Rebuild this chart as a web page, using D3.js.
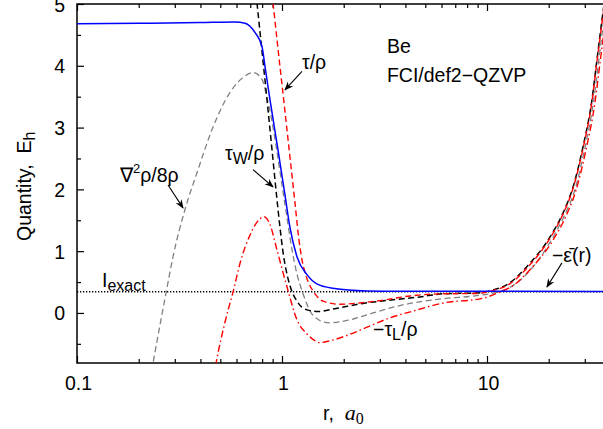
<!DOCTYPE html>
<html>
<head>
<meta charset="utf-8">
<script src="https://cdn.jsdelivr.net/npm/d3@7"></script>
<style>
  body { margin: 0; background: #fff; }
  text { font-family: "Liberation Sans", Arial, sans-serif; white-space: pre; }
</style>
</head>
<body>
<svg id="chart" width="603" height="429"></svg>
<script>
// [r (bohr), value (hartree)]
const negEpsBar = [
  [0.1, 4.68], [0.227, 4.69], [0.398, 4.70], [0.59, 4.71], [0.66, 4.69], [0.698, 4.64],
  [0.738, 4.54], [0.799, 4.31], [0.826, 3.99], [0.874, 3.45], [0.956, 2.64], [1.034, 1.91],
  [1.094, 1.38], [1.183, 0.91], [1.324, 0.62], [1.48, 0.47], [1.77, 0.40], [2.6, 0.356],
  [3.76, 0.35], [10, 0.35], [40, 0.345]
];
const tauW = [
  [0.755, 5.02], [0.799, 4.23], [0.845, 3.45], [0.894, 2.64], [0.940, 1.91], [0.978, 1.38],
  [1.011, 0.99], [1.046, 0.70], [1.094, 0.44], [1.183, 0.19], [1.324, 0.05], [1.498, 0.024],
  [1.835, 0.073], [2.48, 0.154], [3.64, 0.219], [4.71, 0.26], [6.1, 0.31], [8.94, 0.324],
  [10.3, 0.357], [12.9, 0.486], [15.6, 0.745], [20.3, 1.23], [23.5, 1.62], [26.3, 2.04],
  [29.4, 2.69], [32.5, 3.45], [34.3, 4.07], [36.3, 4.72], [38.9, 5.48]
];
const tau = [
  [0.904, 5.02], [0.961, 4.21], [1.023, 3.40], [1.088, 2.59], [1.157, 1.78], [1.21, 1.18],
  [1.252, 0.86], [1.309, 0.60], [1.37, 0.44], [1.449, 0.31], [1.585, 0.19], [1.92, 0.14],
  [2.27, 0.155], [3.0, 0.20], [4.21, 0.275], [6.1, 0.31], [8.94, 0.315], [10.3, 0.35],
  [12.9, 0.47], [15.6, 0.72], [20.3, 1.21], [23.5, 1.60], [26.3, 2.02], [29.4, 2.66],
  [32.5, 3.42], [34.3, 4.04], [36.3, 4.67], [38.9, 5.43]
];
const lapRho = [
  [0.227, -1.09], [0.235, -0.81], [0.272, 0.33], [0.294, 0.91], [0.336, 1.67], [0.385, 2.27],
  [0.461, 3.01], [0.558, 3.57], [0.645, 3.81], [0.722, 3.89], [0.799, 3.78], [0.845, 3.48],
  [0.894, 3.10], [0.945, 2.61], [1.0, 2.07], [1.058, 1.54], [1.119, 1.02], [1.183, 0.63],
  [1.252, 0.36], [1.339, 0.10], [1.416, -0.04], [1.48, -0.09], [1.585, -0.146], [1.715, -0.16],
  [2.145, -0.11], [2.78, 0.0], [3.76, 0.12], [6.1, 0.23], [8.94, 0.28], [10.7, 0.32],
  [12.9, 0.41], [15.6, 0.63], [20.6, 1.18], [23.8, 1.57], [26.8, 1.99], [29.9, 2.64],
  [33.0, 3.40], [34.9, 4.02], [36.9, 4.67], [39.4, 5.40]
];
const negTauL = [
  [0.461, -1.09], [0.477, -0.81], [0.527, -0.15], [0.577, 0.34], [0.631, 0.86], [0.698, 1.26],
  [0.755, 1.47], [0.817, 1.556], [0.874, 1.43], [0.945, 1.02], [1.058, 0.42], [1.183, -0.11],
  [1.324, -0.34], [1.433, -0.44], [1.53, -0.48], [1.715, -0.45], [2.07, -0.365], [2.6, -0.23],
  [3.36, -0.08], [4.35, 0.03], [6.1, 0.16], [9.6, 0.24], [11.2, 0.32], [14.0, 0.49],
  [16.2, 0.70], [21.0, 1.18], [24.3, 1.57], [27.2, 1.99], [30.4, 2.64], [33.6, 3.40],
  [35.5, 4.02], [37.6, 4.67], [39.8, 5.3]
];
const iExact = 0.343;

const xMajor = [0.1, 1, 10];
const xMinor = [0.2, 0.3, 0.4, 0.5, 0.6, 0.7, 0.8, 0.9, 2, 3, 4, 5, 6, 7, 8, 9, 20, 30];
const yMajor = [0, 1, 2, 3, 4, 5];
const yMinor = [-0.5, 0.5, 1.5, 2.5, 3.5, 4.5];

const svg = d3.select("#chart");
const mLeft = 77, mTop = 4, mBottom = 363;
const x = d3.scaleLog().domain([0.1, 40]).range([mLeft, mLeft + 205 * Math.log10(400)]);
const y = d3.scaleLinear().domain([-0.81, 5]).range([mBottom, mTop]);
const mRight = x.range()[1];

const defs = svg.append("defs");
defs.append("clipPath").attr("id", "plot")
  .append("rect").attr("x", mLeft).attr("y", mTop)
  .attr("width", mRight - mLeft).attr("height", mBottom - mTop);

const marker = defs.append("marker")
  .attr("id", "arrow").attr("viewBox", "0 0 10 10")
  .attr("refX", 9).attr("refY", 5)
  .attr("markerWidth", 9).attr("markerHeight", 9)
  .attr("markerUnits", "userSpaceOnUse")
  .attr("orient", "auto");
marker.append("path").attr("d", "M0,1 L10,5 L0,9 L3,5 z").attr("fill", "#000");

// ticks (inward, mirrored on top)
function tickAxis(axis, tv, size, g) {
  g.call(axis.tickValues(tv).tickSizeInner(size).tickSizeOuter(0).tickFormat(""));
  g.select(".domain").remove();
  g.selectAll("line").attr("stroke-width", 1.2);
}
tickAxis(d3.axisBottom(x), xMinor, -4, svg.append("g").attr("transform", `translate(0,${mBottom})`));
tickAxis(d3.axisBottom(x), xMajor, -7, svg.append("g").attr("transform", `translate(0,${mBottom})`));
tickAxis(d3.axisTop(x), xMinor, -4, svg.append("g").attr("transform", `translate(0,${mTop})`));
tickAxis(d3.axisTop(x), xMajor, -7, svg.append("g").attr("transform", `translate(0,${mTop})`));
tickAxis(d3.axisLeft(y), yMinor, -4, svg.append("g").attr("transform", `translate(${mLeft},0)`));
tickAxis(d3.axisLeft(y), yMajor, -7, svg.append("g").attr("transform", `translate(${mLeft},0)`));

// tick labels
svg.append("g").selectAll("text").data(xMajor).join("text")
  .attr("x", d => x(d) + 1.5).attr("y", 390)
  .attr("text-anchor", "middle").attr("font-size", 19.5)
  .text(d => d === 0.1 ? "0.1" : String(d));
svg.append("g").selectAll("text").data(yMajor).join("text")
  .attr("x", mLeft - 12).attr("y", d => y(d) + 7.5)
  .attr("text-anchor", "end").attr("font-size", 19.5)
  .text(d => String(d));

// frame
svg.append("rect").attr("x", mLeft).attr("y", mTop)
  .attr("width", mRight - mLeft).attr("height", mBottom - mTop)
  .attr("fill", "none").attr("stroke", "#000").attr("stroke-width", 1.5);

// curves
const line = d3.line().x(d => x(d[0])).y(d => y(d[1])).curve(d3.curveMonotoneX);
const plot = svg.append("g").attr("clip-path", "url(#plot)");

plot.append("line")
  .attr("x1", mLeft).attr("x2", mRight).attr("y1", y(iExact)).attr("y2", y(iExact))
  .attr("stroke", "#000").attr("stroke-width", 1.3).attr("stroke-dasharray", "1.3,1.7");

const series = [
  { data: lapRho, color: "#808080", dash: "6,3.5", w: 1.3 },
  { data: negTauL, color: "#ff0000", dash: "7,3,1.5,3", w: 1.4 },
  { data: tauW, color: "#000000", dash: "6,3.5", w: 1.5 },
  { data: tau, color: "#ff0000", dash: "6,3.5", w: 1.4 },
  { data: negEpsBar, color: "#0000ff", dash: null, w: 1.5 }
];
series.forEach(s => {
  plot.append("path").datum(s.data)
    .attr("d", line).attr("fill", "none")
    .attr("stroke", s.color).attr("stroke-width", s.w)
    .attr("stroke-dasharray", s.dash);
});

// annotations (positions in data coordinates)
function label(r, v, build) {
  const t = svg.append("text").attr("x", x(r)).attr("y", y(v)).attr("font-size", 19.5);
  build(t);
  return t;
}
function sub(t, s, dy) {
  t.append("tspan").attr("font-size", 16).attr("dy", dy).text(s);
}
label(3.25, 4.20, t => t.text("Be"));
label(3.25, 3.73, t => t.text("FCI/def2\u2212QZVP"));
label(1.252, 3.94, t => t.text("\u03c4/\u03c1"));
label(0.527, 2.48, t => {
  t.append("tspan").text("\u03c4");
  sub(t, "W", 4);
  t.append("tspan").attr("dy", -4).text("/\u03c1");
});
label(0.162, 2.12, t => {
  t.append("tspan").text("\u2207");
  t.append("tspan").attr("font-size", 13).attr("dy", -9).text("2");
  t.append("tspan").attr("dy", 9).text("\u03c1/8\u03c1");
});
label(2.78, -0.373, t => {
  t.append("tspan").text("\u2212\u03c4");
  sub(t, "L", 4);
  t.append("tspan").attr("dy", -4).text("/\u03c1");
});
label(20.75, 0.827, t => t.text("\u2212\u03b5\u0304(r)"));
label(0.1324, 0.42, t => {
  t.append("tspan").text("I");
  sub(t, "exact", 4);
});

const arrows = [
  [[1.252, 3.91], [1.034, 3.61]],
  [[0.722, 2.32], [0.904, 2.04]],
  [[0.278, 2.07], [0.329, 1.70]],
  [[23.2, 0.81], [19.6, 0.42]]
];
svg.append("g").selectAll("line").data(arrows).join("line")
  .attr("x1", d => x(d[0][0])).attr("y1", d => y(d[0][1]))
  .attr("x2", d => x(d[1][0])).attr("y2", d => y(d[1][1]))
  .attr("stroke", "#000").attr("stroke-width", 1.1)
  .attr("marker-end", "url(#arrow)");

// axis titles
const yt = svg.append("text").attr("transform", "translate(31,241) rotate(-90)").attr("font-size", 19.5);
yt.append("tspan").text("Quantity,  E");
yt.append("tspan").attr("font-size", 16).attr("dy", 4).text("h");

const xt = svg.append("text").attr("x", 323).attr("y", 420).attr("font-size", 19.5);
xt.append("tspan").text("r,  ");
xt.append("tspan").attr("font-family", "Liberation Serif, serif").attr("font-style", "italic")
  .attr("font-size", 22).text("a");
xt.append("tspan").attr("font-family", "Liberation Serif, serif")
  .attr("font-size", 16).attr("dy", 4).text("0");
</script>
</body>
</html>
